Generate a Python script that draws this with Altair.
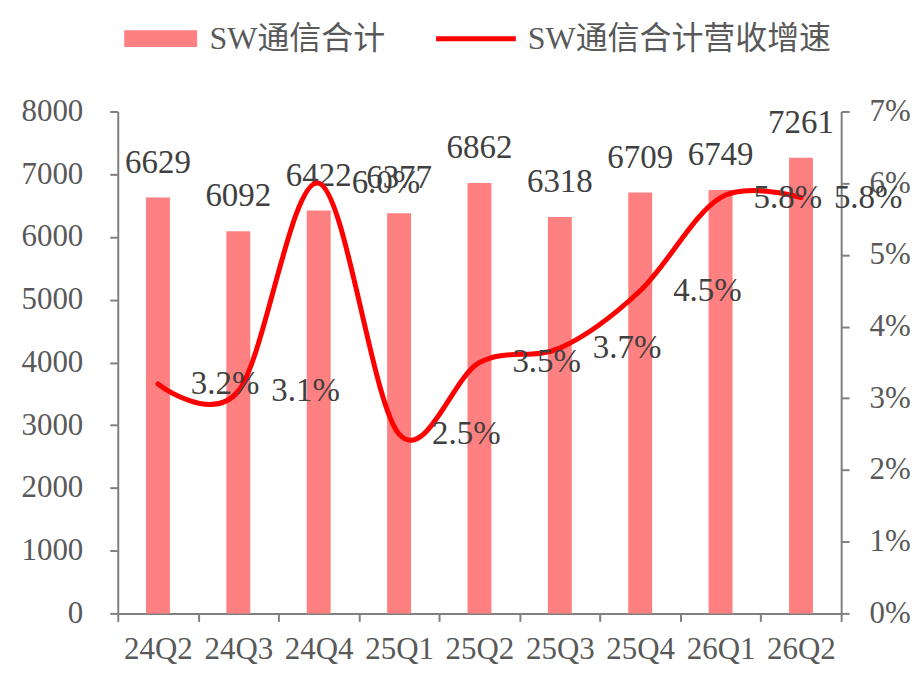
import altair as alt
import pandas as pd

quarters = ["24Q2", "24Q3", "24Q4", "25Q1", "25Q2", "25Q3", "25Q4", "26Q1", "26Q2"]
revenue = [6629, 6092, 6422, 6377, 6862, 6318, 6709, 6749, 7261]
growth = [0.032, 0.031, 0.060, 0.025, 0.035, 0.037, 0.045, 0.058, 0.058]
bar_name = "SW通信合计"
line_name = "SW通信合计营收增速"
left_ticks = [0, 1000, 2000, 3000, 4000, 5000, 6000, 7000, 8000]
right_ticks = [0, 0.01, 0.02, 0.03, 0.04, 0.05, 0.06, 0.07]

df = pd.DataFrame({"q": quarters, "rev": revenue, "g": growth,
                   "s1": bar_name, "s2": line_name})

FONT = "Liberation Serif"
LEG_FONT = "Liberation Serif, Noto Sans CJK SC"

x_enc = alt.X("q:N", sort=quarters, title=None,
              scale=alt.Scale(paddingInner=0, paddingOuter=0),
              axis=alt.Axis(labelAngle=0, tickBand="extent", labelPadding=13,
                            tickSize=8))

y_left = alt.Y("rev:Q", title=None, scale=alt.Scale(domain=[0, 8000], nice=False),
               axis=alt.Axis(values=left_ticks, format="d", grid=False, tickSize=8,
                             labelPadding=27, orient="left"))

y_right = alt.Y("g:Q", title=None, scale=alt.Scale(domain=[0, 0.07], nice=False),
                axis=alt.Axis(values=right_ticks, format=".0%", grid=False,
                              tickSize=8, labelPadding=20, orient="right"))

bars = alt.Chart(df).mark_bar(size=24).encode(
    x=x_enc, y=y_left,
    fill=alt.Fill("s1:N", scale=alt.Scale(domain=[bar_name], range=["#FF8080"]),
                  legend=alt.Legend(title=None, orient="none", legendX=27, legendY=-89,
                                    symbolType="M-4.06,-0.94H4.06V0.94H-4.06Z",
                                    symbolSize=324, symbolStrokeWidth=0,
                                    labelFont=LEG_FONT, labelFontSize=32,
                                    labelColor="#595959", labelOffset=33,
                                    padding=0, labelLimit=0)),
)

bar_text = alt.Chart(df).mark_text(font=FONT, fontSize=33, color="#404040",
                                   dy=-35, baseline="middle").encode(
    x=x_enc, y=y_left, text=alt.Text("rev:Q", format="d"))

line = alt.Chart(df).mark_line(interpolate="cardinal", tension=0, strokeWidth=5,
                               strokeCap="round").encode(
    x=x_enc, y=y_right,
    stroke=alt.Stroke("s2:N", scale=alt.Scale(domain=[line_name], range=["#FF0000"]),
                      legend=alt.Legend(title=None, orient="none", legendX=343, legendY=-89,
                                        symbolType="M-4.44,0H4.44",
                                        symbolSize=324, symbolStrokeWidth=5,
                                        labelFont=LEG_FONT, labelFontSize=32,
                                        labelColor="#595959", labelOffset=36,
                                        padding=0, labelLimit=0)),
)

line_text = alt.Chart(df).mark_text(font=FONT, fontSize=33, color="#404040",
                                    dx=33, align="left", baseline="middle").encode(
    x=x_enc, y=y_right, text=alt.Text("g:Q", format=".1%"))

chart = alt.layer(
    alt.layer(bars, bar_text),
    alt.layer(line, line_text),
).resolve_scale(y="independent").properties(
    width=725, height=503,
    padding={"left": 13, "top": 14, "right": 5, "bottom": 0},
).configure_view(stroke=None).configure_axis(
    domainColor="#808080", domainWidth=2, tickColor="#808080", tickWidth=2,
    labelColor="#595959", labelFont=FONT, labelFontSize=31,
)

chart.save("out.html", embed_options={"renderer": "svg", "actions": False})
